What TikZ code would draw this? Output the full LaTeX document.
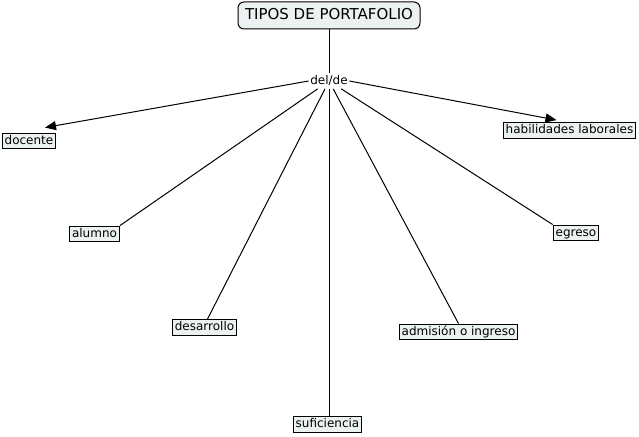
\documentclass[tikz,border=0pt]{standalone}
\usepackage{fontspec}
\setmainfont{DejaVu Sans}
\usetikzlibrary{arrows.meta}
\definecolor{boxfill}{RGB}{236,242,242}
\begin{document}
\begin{tikzpicture}[x=1pt,y=-1pt,
  concept/.style={draw=black, line width=1pt, fill=boxfill, font=\fontsize{12}{14}\selectfont,
    text height=8.8pt, text depth=2.5pt, inner xsep=2.5pt, inner ysep=2.3pt},
  title/.style={draw=black, line width=1pt, fill=boxfill, rounded corners=6pt,
    font=\fontsize{15}{17}\selectfont, text height=11pt, text depth=3pt, minimum width=182pt, minimum height=27pt},
  link/.style={font=\fontsize{12}{14}\selectfont, fill=white, inner xsep=1.5pt, inner ysep=2pt, text height=8.8pt, text depth=2.5pt},
  conn/.style={line width=1pt},
  arr/.style={conn, -{Triangle[length=11pt,width=9pt]}}
]
\useasboundingbox (0,0) rectangle (639,436);
\node[title] (tp) at (329,15.5) {TIPOS DE PORTAFOLIO};
\node[concept] (doc) at (29,141) {docente};
\node[concept] (hab) at (569.5,130.5) {habilidades laborales};
\node[concept] (alu) at (94.5,234) {alumno};
\node[concept] (egr) at (576,233) {egreso};
\node[concept] (des) at (204.5,327.5) {desarrollo};
\node[concept] (adm) at (458.5,332) {admisión o ingreso};
\node[concept] (suf) at (327.5,424.5) {suficiencia};
\node[link] (dd) at (329,81) {del/de};

\draw[conn] (tp) -- (dd);
\draw[arr] (dd.west) -- ([xshift=16pt,yshift=5pt]doc.north);
\draw[arr] (dd.east) -- ([xshift=-13pt,yshift=2pt]hab.north);
\draw[conn] (dd) -- (alu.north east);
\draw[conn] (dd) -- ([xshift=3pt]des.north);
\draw[conn] (dd) -- ([xshift=1.5pt]suf.north);
\draw[conn] (dd) -- (adm.north);
\draw[conn] (dd) -- (egr.north west);
\end{tikzpicture}
\end{document}
